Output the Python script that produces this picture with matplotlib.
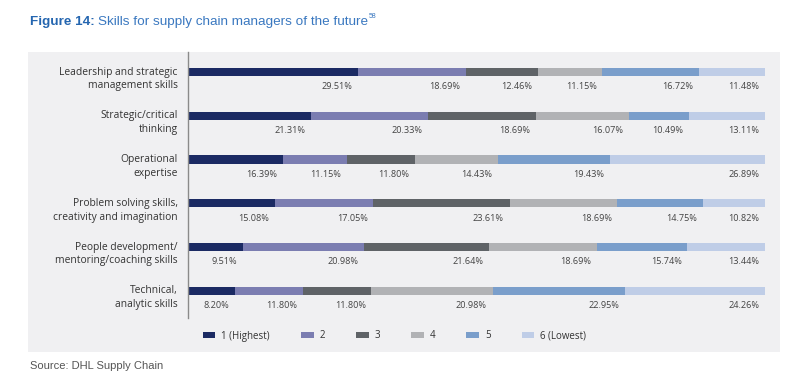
import matplotlib
matplotlib.use("Agg")
import matplotlib.pyplot as plt
from matplotlib.patches import Rectangle
import numpy as np

categories = [
    "Leadership and strategic\nmanagement skills",
    "Strategic/critical\nthinking",
    "Operational\nexpertise",
    "Problem solving skills,\ncreativity and imagination",
    "People development/\nmentoring/coaching skills",
    "Technical,\nanalytic skills",
]
rank_names = ["1 (Highest)", "2", "3", "4", "5", "6 (Lowest)"]
rank_1 = [29.51, 21.31, 16.39, 15.08, 9.51, 8.20]
rank_2 = [18.69, 20.33, 11.15, 17.05, 20.98, 11.80]
rank_3 = [12.46, 18.69, 11.80, 23.61, 21.64, 11.80]
rank_4 = [11.15, 16.07, 14.43, 18.69, 18.69, 20.98]
rank_5 = [16.72, 10.49, 19.43, 14.75, 15.74, 22.95]
rank_6 = [11.48, 13.11, 26.89, 10.82, 13.44, 24.26]

colors = ["#1b2a63", "#7b7db1", "#5f6367", "#b1b2b5", "#7a9ecb", "#bfcde7"]
W, H = 797, 378

fig = plt.figure(figsize=(W / 100, H / 100), dpi=100)
fig.patch.set_facecolor("white")

# grey panel
panel = Rectangle((28 / W, 1 - 352 / H), (780 - 28) / W, (352 - 52) / H,
                  transform=fig.transFigure, facecolor="#f0f0f2",
                  edgecolor="none", zorder=-5)
fig.patches.append(panel)

ax = fig.add_axes([188 / W, 1 - 318 / H, (765 - 188) / W, (318 - 52) / H])
ax.set_facecolor("none")
ax.set_zorder(2)

series = [rank_1, rank_2, rank_3, rank_4, rank_5, rank_6]
y = np.arange(len(categories))
left = np.zeros(len(categories))
for vals, c, name in zip(series, colors, rank_names):
    vals = np.array(vals)
    ax.barh(y, vals, left=left, height=0.19, color=c, label=name)
    for yi, l, v in zip(y, left, vals):
        ax.text(l + v - 1.0, yi + 0.34, f"{v:.2f}%", ha="right", va="center",
                fontsize=6.6, color="#444444", family="Open Sans")
    left += vals

ax.set_xlim(0, 100)
ax.set_ylim(5.62, -0.457)
ax.set_xticks([])
ax.set_yticks([])
for s in ["top", "right", "bottom"]:
    ax.spines[s].set_visible(False)
ax.spines["left"].set_color("#8a8a8a")
ax.spines["left"].set_linewidth(1.0)

for yi, cat in zip(y, categories):
    ax.text(-0.018, yi + 0.16, cat, transform=ax.get_yaxis_transform(),
            ha="right", va="center", multialignment="right", fontsize=7.4,
            color="#333333", family="Open Sans", linespacing=1.35)

leg = ax.legend(loc="center left", bbox_to_anchor=(6 / 577, (318 - 336) / 266),
                ncol=6, frameon=False, handlelength=1.3, handleheight=0.55,
                columnspacing=3.2, handletextpad=0.6,
                prop={"family": "Open Sans", "size": 7})
for t in leg.get_texts():
    t.set_color("#333333")

# title
t1 = fig.text(30 / W, 1 - 22 / H, "Figure 14:", fontsize=9.7, fontweight="bold",
              color="#2566b0", family="Liberation Sans", va="center")
fig.canvas.draw()
bb = t1.get_window_extent()
t2 = fig.text((bb.x1 + 3) / W, 1 - 22 / H, "Skills for supply chain managers of the future",
              fontsize=9.7, color="#3a78c0", family="Liberation Sans", va="center")
fig.canvas.draw()
bb2 = t2.get_window_extent()
fig.text((bb2.x1 + 1) / W, 1 - 17 / H, "58", fontsize=5, color="#3a78c0",
         family="Liberation Sans", va="center")

fig.text(30 / W, 1 - 366 / H, "Source: DHL Supply Chain", fontsize=8,
         color="#555555", family="Liberation Sans", va="center")

fig.savefig("out.png", dpi=100)
